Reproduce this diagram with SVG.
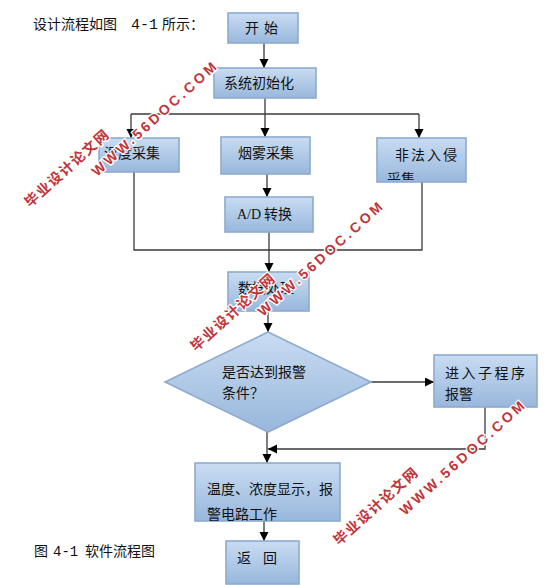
<svg xmlns="http://www.w3.org/2000/svg" width="550" height="585" viewBox="0 0 550 585">
<defs>
<linearGradient id="g" x1="0" y1="0" x2="0" y2="1">
<stop offset="0" stop-color="#c9dcf2"/>
<stop offset="1" stop-color="#98b7dc"/>
</linearGradient>
<marker id="ah" markerUnits="userSpaceOnUse" markerWidth="10" markerHeight="10" refX="9" refY="4.5" orient="auto">
<path d="M0,0 L9,4.5 L0,9 z" fill="#000"/>
</marker>
<clipPath id="c1"><rect x="377" y="138" width="89" height="42"/></clipPath>
<style>
.box{fill:url(#g);stroke:#8eabcf;stroke-width:1.6}
.t{font-family:"Noto Sans CJK SC","Noto Sans",sans-serif;font-size:14px;fill:#111}
.m{font-family:"Liberation Mono",monospace}
.ln{fill:none;stroke:#3a3a3a;stroke-width:1.3}
.wm{font-family:"Liberation Sans","Noto Sans CJK SC",sans-serif;font-weight:bold;font-size:14px;fill:#c0343a;stroke:#fff;stroke-width:2.5;paint-order:stroke;text-anchor:middle}
</style>
</defs>
<rect width="550" height="585" fill="#fff"/>
<text class="t" y="29" font-size="16"><tspan x="33">设计流程如图</tspan><tspan class="m" x="131" font-size="15">4-1</tspan><tspan x="162">所示：</tspan></text>
<text class="t" y="556"><tspan x="34">图</tspan><tspan class="m" x="53">4-1</tspan><tspan x="85">软件流程图</tspan></text>

<g id="connectors">
<path class="ln" d="M264,43 V68" marker-end="url(#ah)"/>
<path class="ln" d="M265,98 V137" marker-end="url(#ah)"/>
<path class="ln" d="M131,114 H419"/>
<path class="ln" d="M131,114 V138" marker-end="url(#ah)"/>
<path class="ln" d="M419,114 V138" marker-end="url(#ah)"/>
<path class="ln" d="M267,174 V197" marker-end="url(#ah)"/>
<path class="ln" d="M134,172 V250 H422 V182"/>
<path class="ln" d="M269,232 V272" marker-end="url(#ah)"/>
<path class="ln" d="M268,311 V332" marker-end="url(#ah)"/>
<path class="ln" d="M371,382 H434" marker-end="url(#ah)"/>
<path class="ln" d="M267,432 V463" marker-end="url(#ah)"/>
<path class="ln" d="M485,407 V449 H268" marker-end="url(#ah)"/>
<path class="ln" d="M264,521 V541" marker-end="url(#ah)"/>
</g>

<g id="start"><rect class="box" x="228" y="13" width="70" height="30"/><text class="t" y="33"><tspan x="245">开</tspan><tspan x="264">始</tspan></text></g>
<g id="init"><rect class="box" x="214" y="68" width="102" height="30"/><text class="t" x="224" y="88">系统初始化</text></g>
<g id="temp"><rect class="box" x="99" y="138" width="80" height="34"/><text class="t" x="104" y="158">温度采集</text></g>
<g id="smoke"><rect class="box" x="221" y="137" width="89" height="37"/><text class="t" x="238" y="158">烟雾采集</text></g>
<g id="intrude"><rect class="box" x="377" y="138" width="89" height="44"/><text class="t" x="395" y="160" letter-spacing="2">非法入侵</text><text class="t" x="387" y="184" clip-path="url(#c1)">采集</text></g>
<g id="ad"><rect class="box" x="225" y="197" width="88" height="35"/><text class="t" y="219" font-size="13"><tspan x="237" font-family="Liberation Serif,serif">A/D</tspan><tspan x="264">转换</tspan></text></g>
<g id="proc"><rect class="box" x="228" y="272" width="81" height="39"/><text class="t" x="238" y="293">数据处理</text></g>
<g id="decide"><polygon class="box" points="268,332 371,382 268,432 165,382"/><text class="t" x="222" y="377" font-size="15">是否达到报警</text><text class="t" x="222" y="398" font-size="15">条件？</text></g>
<g id="alarm"><rect class="box" x="434" y="355" width="103" height="52"/><text class="t" x="445" y="378" letter-spacing="2.5">进入子程序</text><text class="t" x="445" y="399">报警</text></g>
<g id="display"><rect class="box" x="195" y="463" width="145" height="58"/><text class="t" x="207" y="494">温度、浓度显示，报</text><text class="t" x="207" y="519">警电路工作</text></g>
<g id="ret"><rect class="box" x="226" y="541" width="73" height="43"/><text class="t" y="563"><tspan x="237">返</tspan><tspan x="263">回</tspan></text></g>

<g id="watermarks">
<text class="wm" transform="translate(67,168) rotate(-42)" y="5" letter-spacing="1.5">毕业设计论文网</text>
<text class="wm" transform="translate(155,118) rotate(-42)" y="5" letter-spacing="3">WWW.56DOC.COM</text>
<text class="wm" transform="translate(233,312) rotate(-42)" y="5" letter-spacing="1.5">毕业设计论文网</text>
<text class="wm" transform="translate(321,258) rotate(-42)" y="5" letter-spacing="3">WWW.56DOC.COM</text>
<text class="wm" transform="translate(376,506) rotate(-42)" y="5" letter-spacing="1.5">毕业设计论文网</text>
<text class="wm" transform="translate(463,457) rotate(-42)" y="5" letter-spacing="3">WWW.56DOC.COM</text>
</g>
</svg>
